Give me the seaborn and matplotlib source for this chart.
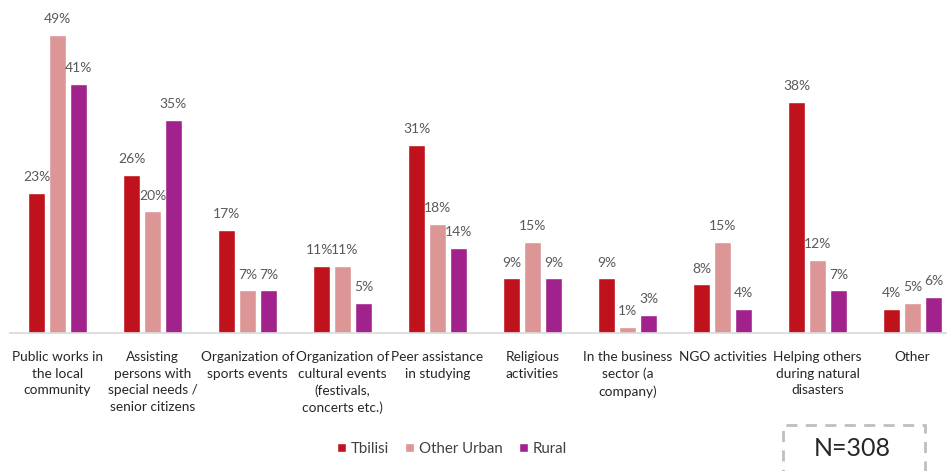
import numpy as np
import pandas as pd
import matplotlib.pyplot as plt
import matplotlib.patches as mpatches
import seaborn as sns

categories = ['Public works in\nthe local\ncommunity',
              'Assisting\npersons with\nspecial needs /\nsenior citizens',
              'Organization of\nsports events',
              'Organization of\ncultural events\n(festivals,\nconcerts etc.)',
              'Peer assistance\nin studying',
              'Religious\nactivities',
              'In the business\nsector (a\ncompany)',
              'NGO activities',
              'Helping others\nduring natural\ndisasters',
              'Other']
tbilisi = [23, 26, 17, 11, 31, 9, 9, 8, 38, 4]
other_urban = [49, 20, 7, 11, 18, 15, 1, 15, 12, 5]
rural = [41, 35, 7, 5, 14, 9, 3, 4, 7, 6]
groups = ['Tbilisi', 'Other Urban', 'Rural']
colors = ['#C0121C', '#DC9696', '#A1228C']

rows = []
for g, vals in zip(groups, [tbilisi, other_urban, rural]):
    for c, v in zip(categories, vals):
        rows.append({'category': c, 'group': g, 'value': v})
df = pd.DataFrame(rows)

sns.set_theme(style='white')
plt.rcParams['font.family'] = ['Lato', 'DejaVu Sans']

W, H = 947, 471
fig = plt.figure(figsize=(W / 100, H / 100), dpi=100)
ax = fig.add_axes([10 / W, 138 / H, 950 / W, 54 * 6.08 / H])

sns.barplot(data=df, x='category', y='value', hue='group', order=categories,
            hue_order=groups, palette=colors, width=0.663, gap=0.19,
            ax=ax, legend=True, saturation=1)

all_labels = []
for cont in ax.containers:
    labels = ax.bar_label(cont, fmt='%d%%', padding=7, fontsize=10, color='#595959')
    for t in labels:
        t.set_clip_on(False)
    all_labels.append(labels)

# the two 11% labels sit side by side; push them a touch apart
all_labels[0][3].xyann = (-1.5, 7)
all_labels[1][3].xyann = (1.5, 7)

ax.set_xlim(-0.5, 9.5)
ax.set_ylim(0, 54)
ax.set_xlabel('')
ax.set_ylabel('')
ax.set_yticks([])
for s in ['top', 'right', 'left']:
    ax.spines[s].set_visible(False)
ax.spines['bottom'].set_color('#D9D9D9')
ax.spines['bottom'].set_linewidth(1.2)
ax.tick_params(axis='x', length=0, pad=13, labelsize=9.8, labelcolor='#262626')
for t in ax.get_xticklabels():
    t.set_linespacing(1.45)

ax.legend(loc='center', bbox_to_anchor=(452 / W, 1 - 449 / H), bbox_transform=fig.transFigure,
          ncol=3, frameon=False, fontsize=10.8, handlelength=0.6, handleheight=0.6,
          handletextpad=0.3, columnspacing=1.1, labelcolor='#404040')

# dashed N box, running off the bottom edge
box = mpatches.Rectangle((783 / W, 1 - 480 / H), 142 / W, 55 / H, transform=fig.transFigure,
                         fill=False, ec='#BFBFBF', lw=2, ls=(0, (4, 3)), clip_on=False)
fig.patches.append(box)
fig.text(852 / W, 1 - 449 / H, 'N=308', ha='center', va='center', fontsize=18, color='#262626')

fig.savefig('out.png', dpi=100)
